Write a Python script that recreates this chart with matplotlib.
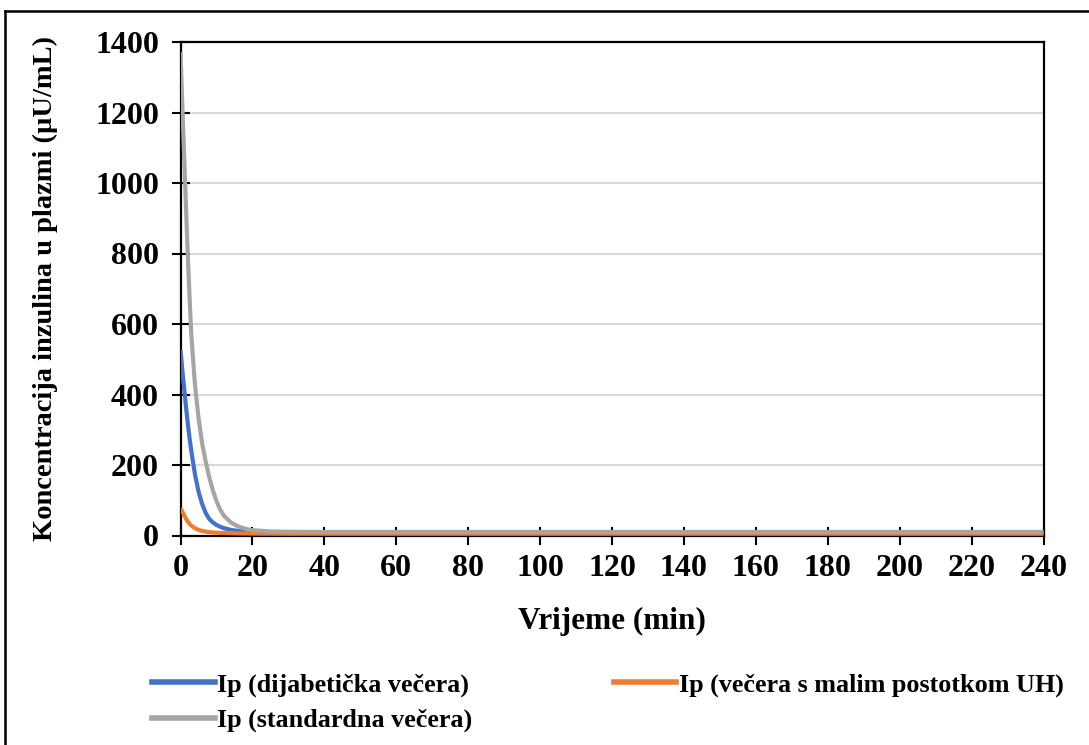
import matplotlib.pyplot as plt
from matplotlib.lines import Line2D

# Data (time in min, insulin in µU/mL)
t = [0, 0.5, 1, 1.5, 2, 2.5, 3, 4, 5, 6, 7, 8, 9, 10, 11, 12, 14, 16, 18, 20, 25, 30, 40,
     60, 80, 100, 120, 140, 160, 180, 200, 220, 240]
ip_dijabeticka = [527, 470, 420, 368, 320, 278, 240, 175, 125, 90, 64, 47, 37, 30, 25, 21, 16, 13, 11, 10, 9.5, 9, 9,
                  9, 9, 9, 9, 9, 9, 9, 9, 9, 9]
ip_mali_uh = [78, 68, 58, 48, 40, 33, 28, 21, 16, 13, 11, 9.5, 8.5, 8, 7.5, 7, 6.5, 6, 5.8, 5.5, 5.2, 5, 5,
              5, 5, 5, 5, 5, 5, 5, 5, 5, 5]
ip_standardna = [1372, 1220, 1080, 940, 800, 680, 570, 430, 335, 262, 210, 165, 128, 98, 74, 57, 37, 26, 19, 15, 11.5, 10.5, 10,
                 10, 10, 10, 10, 10, 10, 10, 10, 10, 10]

labels = ['Ip (dijabetička večera)', 'Ip (večera s malim postotkom UH)', 'Ip (standardna večera)']
colors = ['#4472C4', '#ED7D31', '#A5A5A5']

plt.rcParams['font.family'] = ['Liberation Serif', 'DejaVu Serif']
plt.rcParams['font.weight'] = 'bold'

fig = plt.figure(figsize=(10.89, 7.45), dpi=100)
ax = fig.add_axes([180.5 / 1089, 1 - 535.5 / 745, 863 / 1089, 493.5 / 745])

series = [ip_dijabeticka, ip_mali_uh, ip_standardna]
for y, c, lab in zip(series, colors, labels):
    ax.plot(t, y, color=c, lw=3, label=lab, solid_capstyle='butt', zorder=3)

ax.set_xlim(0, 240)
ax.set_ylim(0, 1400)
ax.set_xticks(range(0, 241, 20))
ax.set_yticks(range(0, 1401, 200))
ax.grid(axis='y', color='#d9d9d9', lw=1.5, zorder=0)
ax.set_axisbelow(True)

for s in ax.spines.values():
    s.set_linewidth(1.6)
    s.set_color('black')
ax.tick_params(direction='inout', length=13, width=1.5, labelsize=23)
ax.tick_params(axis='x', pad=7)
ax.tick_params(axis='y', pad=9)
for lbl in ax.get_xticklabels() + ax.get_yticklabels():
    lbl.set_fontweight('bold')

ax.set_xlabel('Vrijeme (min)', fontsize=22.5, fontweight='bold', labelpad=17)
ax.set_ylabel('Koncentracija inzulina u plazmi (µU/mL)', fontsize=20.5, fontweight='bold', labelpad=27)

# legend is filled row by row in the reference: blue, orange / gray
order = [0, 2, 1]
handles = [Line2D([], [], color=colors[i], lw=4) for i in order]
fig.legend(handles, [labels[i] for i in order], ncol=2, loc='upper left',
           bbox_to_anchor=(152 / 1089, 1 - 673 / 745), borderaxespad=0, borderpad=0,
           frameon=False, handlelength=2.4, handletextpad=0.1,
           columnspacing=5.4, labelspacing=0.45, prop={'weight': 'bold', 'size': 18.8})

# outer chart border (left and top edges visible)
fig.add_artist(Line2D([5 / 1089, 5 / 1089], [0, 1 - 10.5 / 745], transform=fig.transFigure,
                      color='black', lw=1.8))
fig.add_artist(Line2D([5 / 1089, 1], [1 - 10.5 / 745, 1 - 10.5 / 745], transform=fig.transFigure,
                      color='black', lw=1.8))

fig.savefig('out.png', dpi=100)
